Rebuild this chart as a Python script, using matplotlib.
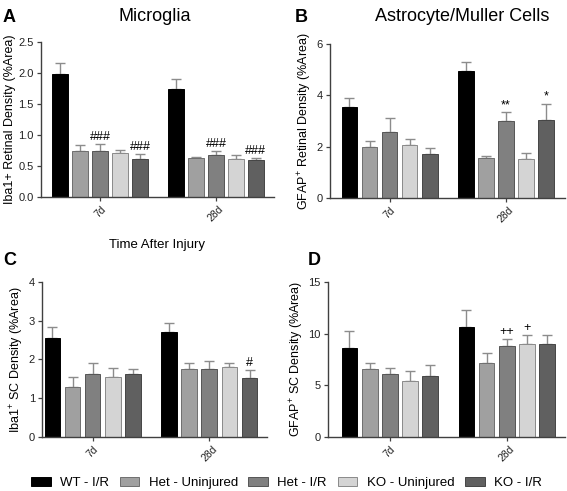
import numpy as np
import matplotlib
matplotlib.use("Agg")
import matplotlib.pyplot as plt
from matplotlib.patches import Patch

plt.rcParams["font.family"] = ["Liberation Sans", "DejaVu Sans"]
plt.rcParams["mathtext.default"] = "regular"

groups = ["7d", "28d"]
series = ["WT - I/R", "Het - Uninjured", "Het - I/R", "KO - Uninjured", "KO - I/R"]
colors = ["#000000", "#a0a0a0", "#808080", "#d4d4d4", "#606060"]
edges = ["#000000", "#6e6e6e", "#555555", "#8a8a8a", "#454545"]

# panel A - Iba1 retinal (mean, top of error bar)
a_mean = [[1.98, 0.74, 0.74, 0.70, 0.605], [1.735, 0.62, 0.68, 0.61, 0.60]]
a_top = [[2.16, 0.83, 0.86, 0.76, 0.69], [1.90, 0.65, 0.74, 0.67, 0.63]]
a_marks = {(0, 2): "###", (0, 4): "###", (1, 2): "###", (1, 4): "###"}

# panel B - GFAP retinal
b_mean = [[3.55, 1.99, 2.57, 2.05, 1.71], [4.95, 1.56, 3.01, 1.52, 3.04]]
b_top = [[3.88, 2.21, 3.10, 2.30, 1.95], [5.32, 1.64, 3.35, 1.74, 3.68]]
b_marks = {(1, 2): "**", (1, 4): "*"}

# panel C - Iba1 SC
c_mean = [[2.56, 1.28, 1.63, 1.55, 1.62], [2.70, 1.76, 1.76, 1.80, 1.52]]
c_top = [[2.84, 1.54, 1.91, 1.77, 1.76], [2.95, 1.92, 1.95, 1.91, 1.72]]
c_marks = {(1, 4): "#"}

# panel D - GFAP SC
d_mean = [[8.65, 6.61, 6.06, 5.42, 5.94], [10.65, 7.16, 8.84, 8.97, 9.0]]
d_top = [[10.26, 7.16, 6.68, 6.39, 6.94], [12.32, 8.10, 9.45, 9.90, 9.90]]
d_marks = {(1, 2): "++", (1, 3): "+"}

fig = plt.figure(figsize=(5.67, 4.91), dpi=100)

offset = 5.8
width = 0.78


def panel(rect, mean, top, marks, ylim, yticks, ylabel, xlim, fmt="%g"):
    ax = fig.add_axes(rect)
    span = ylim[1] - ylim[0]
    for g in range(2):
        for i in range(5):
            x = g * offset + i
            m = mean[g][i]
            ax.bar(x, m, width, color=colors[i], edgecolor=edges[i], linewidth=0.7, zorder=2)
            ax.errorbar(x, m, yerr=[[0], [top[g][i] - m]], fmt="none", ecolor="#8c8c8c",
                        elinewidth=1.0, capsize=3.5, capthick=1.0, zorder=1)
            if (g, i) in marks:
                ax.text(x, top[g][i] + span * 0.005, marks[(g, i)], ha="center", va="bottom",
                        fontsize=9)
    ax.set_xlim(*xlim)
    ax.set_ylim(*ylim)
    ax.set_yticks(yticks)
    ax.set_yticklabels([fmt % t for t in yticks], fontsize=8)
    ax.set_xticks([2, offset + 2])
    ax.set_xticklabels(groups, rotation=45, fontsize=7.5, ha="center")
    ax.set_ylabel(ylabel, fontsize=9, labelpad=2)
    for s in ["top", "right"]:
        ax.spines[s].set_visible(False)
    for s in ["left", "bottom"]:
        ax.spines[s].set_color("#404040")
        ax.spines[s].set_linewidth(1.0)
    ax.tick_params(colors="#404040", labelcolor="#222222", length=3, width=0.9, pad=2)
    return ax


axA = panel([0.072, 0.599, 0.411, 0.316], a_mean, a_top, a_marks, (0, 2.5),
            [0, 0.5, 1.0, 1.5, 2.0, 2.5], "Iba1+ Retinal Density (%Area)", (-0.97, 10.7), "%.1f")
axA.set_xlabel("Time After Injury", fontsize=9.5, labelpad=11)
panel([0.582, 0.597, 0.414, 0.313], b_mean, b_top, b_marks, (0, 6),
      [0, 2, 4, 6], "GFAP$^{+}$ Retinal Density (%Area)", (-0.97, 10.73))
panel([0.074, 0.110, 0.397, 0.316], c_mean, c_top, c_marks, (0, 4),
      [0, 1, 2, 3, 4], "Iba1$^{+}$ SC Density (%Area)", (-0.52, 10.67))
panel([0.578, 0.110, 0.418, 0.316], d_mean, d_top, d_marks, (0, 15),
      [0, 5, 10, 15], "GFAP$^{+}$ SC Density (%Area)", (-1.08, 10.68))

fig.text(0.005, 0.965, "A", fontsize=13, fontweight="bold", va="center")
fig.text(0.520, 0.965, "B", fontsize=13, fontweight="bold", va="center")
fig.text(0.005, 0.470, "C", fontsize=13, fontweight="bold", va="center")
fig.text(0.543, 0.470, "D", fontsize=13, fontweight="bold", va="center")
fig.text(0.273, 0.967, "Microglia", fontsize=13, ha="center", va="center")
fig.text(0.815, 0.967, "Astrocyte/Muller Cells", fontsize=13, ha="center", va="center")

handles = [Patch(facecolor=colors[i], edgecolor=edges[i], linewidth=0.7) for i in range(5)]
fig.legend(handles, series, loc="center", bbox_to_anchor=(0.505, 0.016), ncol=5, frameon=False,
           fontsize=9.5, handlelength=1.5, handleheight=0.6, columnspacing=0.8, handletextpad=0.7)

fig.savefig("out.png", dpi=100)
